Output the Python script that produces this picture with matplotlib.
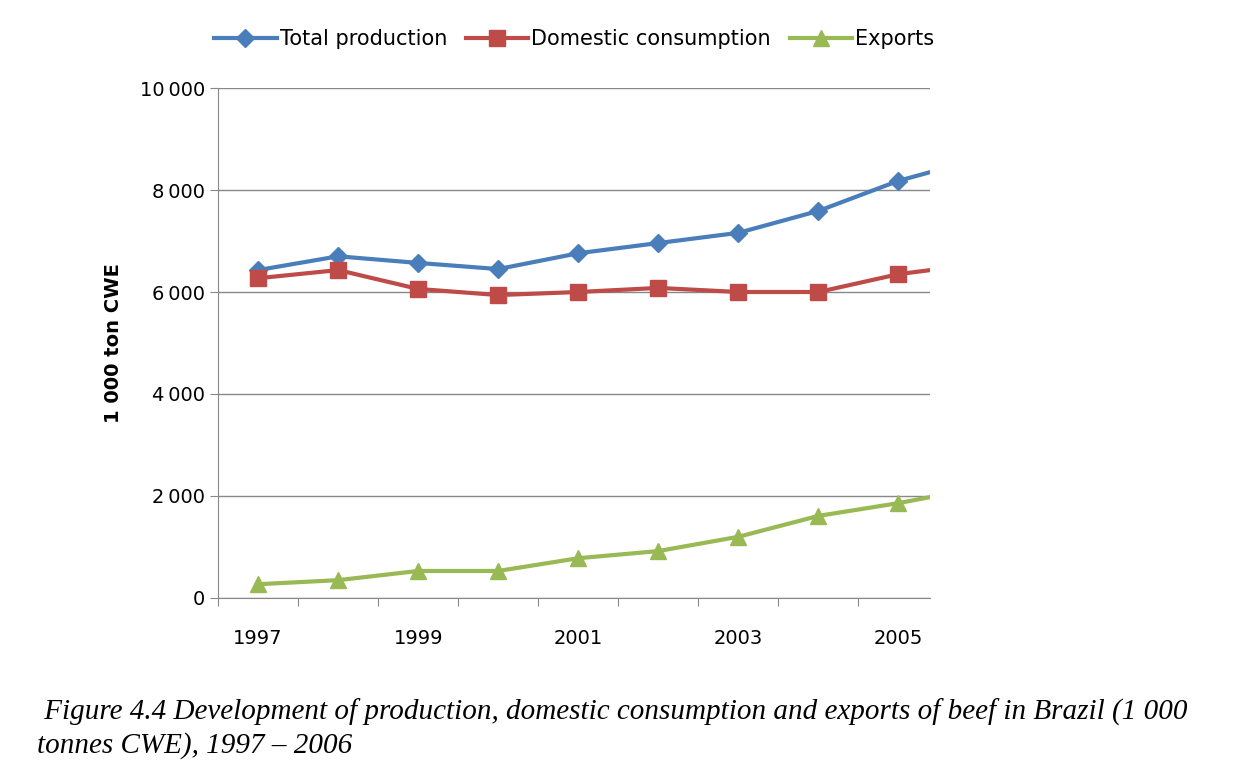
import matplotlib.pyplot as plt
import numpy as np

years = [1997, 1998, 1999, 2000, 2001, 2002, 2003, 2004, 2005, 2006]
total_production = [6430, 6700, 6570, 6450, 6760, 6960, 7160, 7590, 8180, 8610]
domestic_consumption = [6270, 6430, 6060, 5940, 6000, 6080, 6000, 6000, 6350, 6550]
exports = [270, 350, 530, 530, 780, 920, 1200, 1610, 1860, 2160]

fig = plt.figure(figsize=(12.39, 7.72), dpi=100)
ax = fig.add_axes([0.176, 0.2254, 0.575, 0.6606])
x = np.arange(len(years))

ax.plot(x, total_production, c='#4a7ebb', lw=3, marker='D', ms=9, label='Total production')
ax.plot(x, domestic_consumption, c='#be4b48', lw=3, marker='s', ms=11, label='Domestic consumption')
ax.plot(x, exports, c='#98b954', lw=3, marker='^', ms=11, label='Exports')

ax.set_xlim(-0.5, 8.4)
ax.set_ylim(0, 10000)
ax.set_yticks(range(0, 10001, 2000))
ax.set_yticklabels([f'{v:,}'.replace(',', '\u2009') if v >= 1000 else '0' for v in range(0, 10001, 2000)], fontsize=14)
ax.yaxis.grid(True, color='#888888', lw=1)
ax.set_axisbelow(True)

ax.set_xticks(np.arange(-0.5, 8.4, 1))
ax.set_xticklabels([])
ax.set_xticks(x[::2], minor=True)
ax.set_xticklabels([str(y) for y in years[::2]], minor=True, fontsize=14)
ax.tick_params(axis='x', which='minor', length=0, pad=22)
ax.tick_params(axis='x', which='major', length=6, color='#888888')
ax.tick_params(axis='y', length=6, color='#888888')

for s in ['top', 'right']:
    ax.spines[s].set_visible(False)
ax.spines['left'].set_color('#888888')
ax.spines['bottom'].set_color('#888888')

ax.set_ylabel('1 000 ton CWE', fontsize=14, fontweight='bold', labelpad=12)

ax.legend(loc='lower center', bbox_to_anchor=(0.5, 1.04), ncol=3, frameon=False,
          fontsize=15, handlelength=3, columnspacing=0.9, handletextpad=0.15)

fig.text(0.03, 0.025, ' Figure 4.4 Development of production, domestic consumption and exports of beef in Brazil (1 000\ntonnes CWE), 1997 \u2013 2006',
         family='Liberation Serif', style='italic', fontsize=21, linespacing=1.3)

fig.savefig('out.png', dpi=100)
